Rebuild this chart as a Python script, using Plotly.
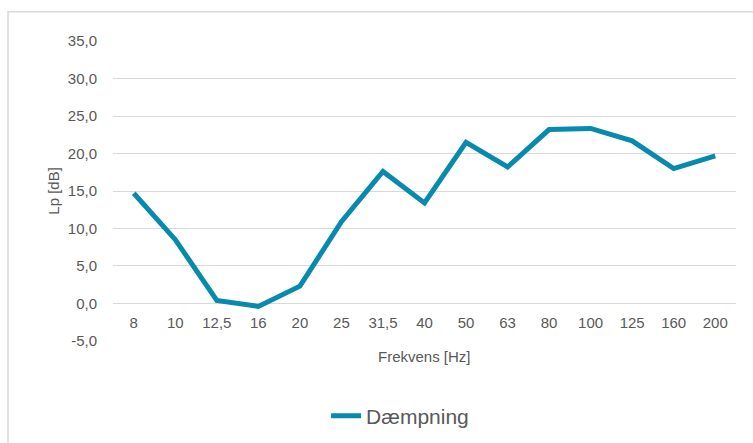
import plotly.graph_objects as go

categories = ["8", "10", "12,5", "16", "20", "25", "31,5", "40", "50", "63", "80", "100", "125", "160", "200"]
daempning = [14.7, 8.5, 0.4, -0.4, 2.3, 10.9, 17.6, 13.4, 21.5, 18.2, 23.2, 23.35, 21.7, 18.0, 19.7]
y_ticks = [-5, 0, 5, 10, 15, 20, 25, 30, 35]
y_tick_labels = ["-5,0", "0,0", "5,0", "10,0", "15,0", "20,0", "25,0", "30,0", "35,0"]

TEXT = "#595959"
GRID = "#D9D9D9"
FONT = "Liberation Sans, Arial, sans-serif"

fig = go.Figure()
fig.add_trace(go.Scatter(
    x=categories, y=daempning, mode="lines", name="Dæmpning",
    line=dict(color="#0889AE", width=5),
))

fig.update_layout(
    width=753, height=443,
    margin=dict(l=113, r=17, t=41, b=102, autoexpand=False),
    paper_bgcolor="white", plot_bgcolor="white",
    font=dict(family=FONT, size=15, color=TEXT),
    showlegend=True,
    legend=dict(orientation="h", x=0.342, xanchor="left", y=-0.25, yanchor="middle",
                font=dict(size=21, color=TEXT), bgcolor="rgba(0,0,0,0)"),
    xaxis=dict(type="category", range=[-0.5, 14.5], showgrid=False, zeroline=False,
               showline=False, anchor="free", position=0.125, automargin=False,
               ticks="outside", ticklen=5, tickcolor="rgba(0,0,0,0)",
               tickfont=dict(size=15, color=TEXT)),
    yaxis=dict(range=[-5.02, 35.02], tickvals=y_ticks, ticktext=y_tick_labels, automargin=False,
               showgrid=True, gridcolor=GRID, gridwidth=1.3, zeroline=False, showline=False,
               ticks="outside", ticklen=12, tickcolor="rgba(0,0,0,0)",
               tickfont=dict(size=15, color=TEXT)),
    shapes=[dict(type="rect", xref="paper", yref="paper", x0=-0.1685, x1=1.6, y0=-0.8, y1=1.0977,
                 line=dict(color=GRID, width=1.5), fillcolor="rgba(0,0,0,0)", layer="below")],
    annotations=[
        dict(text="Frekvens [Hz]", xref="paper", yref="paper", x=0.5, y=-0.05,
             xanchor="center", yanchor="middle", showarrow=False, font=dict(size=15, color=TEXT)),
        dict(text="Lp [dB]", xref="paper", yref="paper", x=-0.0968, y=0.5, textangle=-90,
             xanchor="center", yanchor="middle", showarrow=False, font=dict(size=15, color=TEXT)),
    ],
)

fig.write_html("out.html", config={"displayModeBar": False},
               post_script="document.body.style.margin='0px';document.body.style.overflow='hidden';")
